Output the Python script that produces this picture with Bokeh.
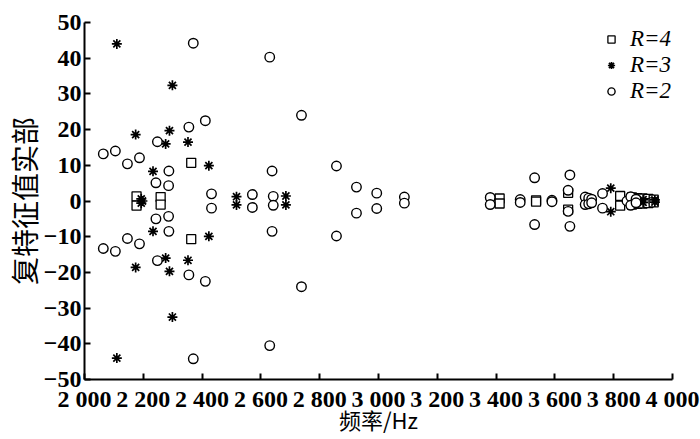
from bokeh.plotting import figure
from bokeh.models import FixedTicker, Range1d, Legend, LegendItem
from bokeh.embed import file_html
from bokeh.resources import INLINE

# ---- data ----
r4_freq = [2363, 2363, 2177, 2177, 2259, 2259, 3412, 3412, 3536, 3536,
           3645, 3645, 3822, 3822, 3862, 3862, 3880, 3880, 3898, 3898,
           3918, 3918, 3936, 3936]
r4_val = [10.7, -10.7, 1.3, -1.3, 1.1, -1.0, 0.7, -0.7, 0.2, -0.2,
          2.3, -2.4, 1.4, -1.3, 1.0, -1.0, 0.8, -0.8, 0.7, -0.7,
          0.6, -0.6, 0.4, -0.4]

r3_freq = [2110, 2110, 2299, 2299, 2174, 2174, 2289, 2289, 2276, 2276,
           2352, 2352, 2233, 2233, 2423, 2423, 2193, 2193, 2197,
           2517, 2517, 2685, 2685, 3790, 3790, 3725, 3725, 3868, 3868,
           3900, 3900, 3940, 3940]
r3_val = [44.0, -44.0, 32.4, -32.5, 18.6, -18.6, 19.7, -19.7, 16.0, -16.0,
          16.5, -16.6, 8.3, -8.5, 9.9, -9.9, 0.6, -0.6, 0.0,
          1.2, -1.1, 1.4, -1.1, 3.6, -3.0, 0.5, -0.5, 0.8, -0.8,
          0.4, -0.4, 0.3, -0.3]

r2_freq = [2064, 2064, 2105, 2105, 2146, 2146, 2187, 2187, 2248, 2248,
           2243, 2243, 2287, 2287, 2286, 2286, 2370, 2370, 2355, 2355,
           2411, 2411, 2432, 2432, 2571, 2571, 2630, 2630, 2638, 2638,
           2642, 2642, 2738, 2738, 2857, 2857, 2925, 2925, 2994, 2994,
           3088, 3088, 3380, 3380, 3482, 3482, 3531, 3531, 3590, 3590,
           3645, 3645, 3651, 3651, 3703, 3703, 3715, 3715, 3725, 3725,
           3762, 3762, 3845, 3858, 3858, 3876, 3876]
r2_val = [13.2, -13.3, 14.0, -14.1, 10.4, -10.5, 12.1, -12.0, 16.6, -16.7,
          5.1, -5.0, 8.4, -8.5, 4.3, -4.3, 44.2, -44.2, 20.7, -20.7,
          22.5, -22.5, 2.0, -2.0, 1.8, -1.8, 40.3, -40.5, 8.4, -8.5,
          1.3, -1.2, 24.0, -24.0, 9.8, -9.8, 3.9, -3.4, 2.2, -2.1,
          1.1, -0.6, 1.0, -1.0, 0.4, -0.4, 6.5, -6.6, 0.2, -0.2,
          3.0, -2.9, 7.3, -7.1, 1.1, -1.0, 0.8, -0.8, 0.5, -0.5,
          2.1, -2.0, 0.0, 1.2, -1.2, 0.5, -0.5]

x_ticks = [2000, 2200, 2400, 2600, 2800, 3000, 3200, 3400, 3600, 3800, 4000]
x_tick_labels = ["2 000", "2 200", "2 400", "2 600", "2 800", "3 000",
                 "3 200", "3 400", "3 600", "3 800", "4 000"]
y_ticks = [-50, -40, -30, -20, -10, 0, 10, 20, 30, 40, 50]
y_tick_labels = ["\u221250", "\u221240", "\u221230", "\u221220", "\u221210",
                 "0", "10", "20", "30", "40", "50"]
x_title = "频率/Hz"
y_title = "复特征值实部"

NUM_FONT = "Liberation Serif"
CJK_FONT = "Noto Sans CJK SC"

p = figure(width=700, height=439, output_backend="svg", toolbar_location=None,
           x_range=Range1d(2000, 4000), y_range=Range1d(-50, 50),
           min_border_left=77, min_border_right=28, min_border_top=22,
           min_border_bottom=60)
p.outline_line_color = None
p.grid.visible = False
p.background_fill_color = "white"
p.border_fill_color = "white"

s4 = p.scatter(r4_freq, r4_val, marker="square", size=9, fill_color="white",
               line_color="black", line_width=1.3)
s3 = p.scatter(r3_freq, r3_val, marker="asterisk", size=10,
               line_color="black", line_width=1.7)
s2 = p.scatter(r2_freq, r2_val, marker="circle", size=9.5, fill_color="white",
               line_color="black", line_width=1.4)

for ax in (p.xaxis[0], p.yaxis[0]):
    ax.axis_line_color = "black"
    ax.axis_line_width = 2
    ax.major_tick_line_color = "black"
    ax.major_tick_line_width = 2
    ax.major_tick_in = 6
    ax.major_tick_out = 0
    ax.minor_tick_line_color = None
    ax.major_label_text_font = NUM_FONT
    ax.major_label_text_font_style = "bold"
    ax.major_label_text_font_size = "24px"
    ax.major_label_text_color = "black"
    ax.axis_label_text_font = CJK_FONT
    ax.axis_label_text_font_style = "normal"
    ax.axis_label_text_color = "black"

p.xaxis[0].ticker = FixedTicker(ticks=x_ticks)
p.xaxis[0].major_label_overrides = dict(zip(x_ticks, x_tick_labels))
p.xaxis[0].major_label_standoff = 6
p.xaxis[0].axis_label = x_title
p.xaxis[0].axis_label_text_font_size = "22px"
p.xaxis[0].axis_label_standoff = -12

p.yaxis[0].ticker = FixedTicker(ticks=y_ticks)
p.yaxis[0].major_label_overrides = dict(zip(y_ticks, y_tick_labels))
p.yaxis[0].major_label_standoff = 3
p.yaxis[0].axis_label = y_title
p.yaxis[0].axis_label_text_font_size = "28px"
p.yaxis[0].axis_label_standoff = -3

legend = Legend(items=[
    LegendItem(label="R=4", renderers=[s4]),
    LegendItem(label="R=3", renderers=[s3]),
    LegendItem(label="R=2", renderers=[s2]),
], location=(518, 275))
legend.background_fill_alpha = 0
legend.border_line_color = None
legend.label_text_font = NUM_FONT
legend.label_text_font_style = "italic"
legend.label_text_font_size = "23px"
legend.label_text_color = "black"
legend.glyph_width = 18
legend.glyph_height = 18
legend.spacing = -6
legend.label_height = 22
legend.label_standoff = 10
legend.padding = 2
legend.margin = 0
p.add_layout(legend)

open("out.html", "w").write(file_html(p, INLINE))
